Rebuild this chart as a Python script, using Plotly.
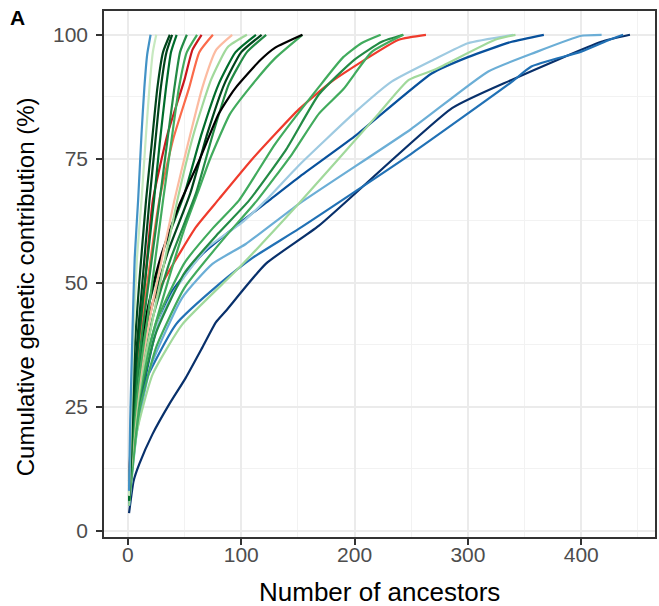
import plotly.graph_objects as go

# ---- data: cumulative genetic contribution (%) vs number of ancestors ----
navy_x = [1, 5, 10, 21.6, 36.5, 51, 65.6, 77.6, 86.4, 121.6, 168.6, 286, 338.5, 417.7, 443]
navy_y = [3.5, 10, 13.4, 19.4, 25.5, 30.8, 36.9, 42, 44.3, 53.8, 61.5, 85.2, 90.9, 98.6, 100]

medblue_x = [1, 5, 13, 42.4, 80.5, 110, 151, 250, 338.7, 356, 400, 425, 437]
medblue_y = [6, 18, 28.8, 41.6, 49.7, 55, 60.9, 76, 90.5, 93.6, 96.6, 99, 100]

skyblue_x = [1, 8, 20, 48, 74.6, 104, 151, 250, 318, 360, 400, 418]
skyblue_y = [5, 20, 33, 47, 53.8, 57.8, 65.9, 81, 92.6, 96.5, 99.8, 100]

darkblue_x = [1, 8, 24.8, 39.4, 65.8, 98, 124.6, 151, 200, 268, 300, 338.7, 367]
darkblue_y = [5, 22, 40.3, 48.4, 55.8, 61.9, 66.6, 71.3, 79.5, 92.2, 95.5, 98.6, 100]

paleblue_x = [1, 8, 20, 40, 70, 100, 121.6, 151, 201, 233, 270, 300, 340]
paleblue_y = [6, 25, 38, 48, 57, 62, 66.6, 73.7, 84.5, 90.6, 95, 98.3, 100]

lgreen_long_x = [1, 8, 21.8, 48, 98, 151, 221.6, 247.8, 271, 324, 342]
lgreen_long_y = [5, 20, 31.5, 41.6, 53, 66, 84.2, 90.9, 93, 99, 100]

red_x = [1, 10, 21.8, 36.5, 60, 80.5, 110, 151, 180, 239, 263]
red_y = [12, 33, 46, 52.4, 61.2, 66.9, 75, 85, 90.6, 99, 100]

gC1_x = [1, 10, 25, 50, 75, 98, 130, 168.6, 190, 206, 223]
gC1_y = [7, 28, 42, 54, 61, 66.6, 78, 89.5, 95.5, 98.3, 100]

gC2_x = [1, 10, 25, 50, 80, 107, 140, 168.6, 200, 224, 243]
gC2_y = [6, 26, 40, 52, 60, 66.6, 77, 88, 95, 98.6, 100]

gC3_x = [1, 10, 25, 50, 85, 114, 145, 168.6, 190, 215, 243]
gC3_y = [6, 24, 37, 49, 59, 66.6, 76, 84.1, 89, 96.5, 100]

black_x = [1, 3, 6, 10, 19, 30, 45, 63, 80, 89.4, 95, 116, 130, 154]
black_y = [8, 18, 28, 36, 46.4, 56, 65.5, 74.7, 84, 87.5, 89.3, 94.7, 97.4, 100]

mgreen_x = [1, 4, 10, 20, 35, 50, 63, 72, 90, 107, 130, 154]
mgreen_y = [6, 16, 27, 38, 50, 61, 69, 74.7, 84, 89.2, 95.3, 100]

dgM1_x = [1, 4, 9, 18, 32, 50, 65, 80, 95, 113]
dgM1_y = [7, 20, 32, 45, 57, 68, 80, 90, 96.5, 100]

dgM2_x = [1, 4, 10, 20, 35, 55, 70, 85, 100, 118]
dgM2_y = [7, 19, 31, 44, 56, 68, 80, 90, 96.5, 100]

dgM3_x = [1, 5, 11, 22, 38, 60, 75, 89, 105, 122]
dgM3_y = [6, 19, 30, 43, 55, 68, 80, 90, 96.5, 100]

lgreen105_x = [1, 5, 12, 24, 43.6, 58, 73.5, 88, 105]
lgreen105_y = [6, 19, 31, 45, 66.6, 80, 91, 97.5, 100]

lsalmon_x = [1, 5, 12, 22, 41, 53, 65.6, 78, 92]
lsalmon_y = [7, 20, 33, 46, 66.6, 78, 89.3, 97, 100]

salmon_x = [1, 4, 9, 16, 27.7, 40, 54, 63, 75]
salmon_y = [9, 22, 35, 48, 66.6, 79, 89.3, 96.5, 100]

dred_x = [1, 4, 9, 15, 22, 35, 50, 57, 65]
dred_y = [10, 25, 38, 50, 66.6, 80, 91, 97, 100]

gS2_x = [1, 4, 10, 18, 31, 38, 45, 52, 61]
gS2_y = [6, 18, 31, 44, 66.6, 78, 89.3, 96.5, 100]

gS1_x = [1, 4, 9, 16, 28, 35, 41, 46, 52]
gS1_y = [6, 20, 33, 46, 66.6, 79, 89.3, 96.5, 100]

dgS3_x = [1, 4, 8, 14, 23, 28, 33.6, 38, 43]
dgS3_y = [6, 21, 35, 48, 66.6, 78, 89.3, 96.5, 100]

dgS2_x = [1, 3, 7, 12, 19, 24, 29, 34, 39]
dgS2_y = [7, 20, 35, 48, 66.6, 78, 89.3, 96.5, 100]

dgS1_x = [1, 3, 6, 10, 16, 21, 26, 31, 37]
dgS1_y = [7, 22, 37, 50, 66.6, 78, 89.3, 96.5, 100]

pgreen_x = [1, 3, 5, 8, 12, 16, 19, 22, 25]
pgreen_y = [7, 25, 40, 55, 66.6, 80, 89.3, 96.5, 100]

sblue_x = [1, 2, 4, 6, 9, 12, 14.5, 17, 20]
sblue_y = [8, 22, 40, 55, 66.6, 80, 89.3, 96, 100]

x_ticks = [0, 100, 200, 300, 400]
y_ticks = [0, 25, 50, 75, 100]

# ---- styling (drawing order, colours) ----
series = [
    (navy_x, navy_y, "#08306B"),
    (medblue_x, medblue_y, "#2171B5"),
    (skyblue_x, skyblue_y, "#6BAED6"),
    (darkblue_x, darkblue_y, "#08519C"),
    (paleblue_x, paleblue_y, "#9ECAE1"),
    (lgreen_long_x, lgreen_long_y, "#A1D99B"),
    (red_x, red_y, "#EF3B2C"),
    (gC1_x, gC1_y, "#41AB5D"),
    (gC2_x, gC2_y, "#238B45"),
    (gC3_x, gC3_y, "#41AB5D"),
    (mgreen_x, mgreen_y, "#41AB5D"),
    (dgM1_x, dgM1_y, "#006D2C"),
    (dgM2_x, dgM2_y, "#00441B"),
    (dgM3_x, dgM3_y, "#238B45"),
    (black_x, black_y, "#000000"),
    (lgreen105_x, lgreen105_y, "#A1D99B"),
    (lsalmon_x, lsalmon_y, "#FCBBA1"),
    (salmon_x, salmon_y, "#FB6A4A"),
    (dred_x, dred_y, "#CB181D"),
    (gS2_x, gS2_y, "#41AB5D"),
    (gS1_x, gS1_y, "#238B45"),
    (dgS3_x, dgS3_y, "#006D2C"),
    (dgS2_x, dgS2_y, "#00441B"),
    (dgS1_x, dgS1_y, "#00441B"),
    (pgreen_x, pgreen_y, "#C7E9C0"),
    (sblue_x, sblue_y, "#4292C6"),
]

fig = go.Figure()
for xs, ys, col in series:
    fig.add_trace(go.Scatter(x=xs, y=ys, mode="lines",
                             line=dict(color=col, width=2.2, shape="spline", smoothing=0.5),
                             showlegend=False, hoverinfo="skip"))

FONT = "Liberation Sans, Arial, sans-serif"
axis_common = dict(
    showline=True, mirror=True, linecolor="#333333", linewidth=1.5,
    ticks="outside", ticklen=6, tickwidth=1.5, tickcolor="#333333",
    showgrid=True, gridcolor="#EBEBEB", gridwidth=1.5,
    zeroline=False,
    tickfont=dict(family=FONT, size=21, color="#4D4D4D"),
)
fig.update_xaxes(range=[-21.1, 465.1], tickvals=x_ticks, ticklabelstandoff=-8,
                 minor=dict(dtick=50, showgrid=True, gridcolor="#F2F2F2", gridwidth=1, ticks=""),
                 **axis_common)
fig.update_yaxes(range=[-1.3, 104.8], tickvals=y_ticks, ticklabelstandoff=4,
                 minor=dict(dtick=12.5, showgrid=True, gridcolor="#F2F2F2", gridwidth=1, ticks=""),
                 **axis_common)

fig.update_layout(
    width=659, height=606,
    margin=dict(l=104, r=2, t=11, b=69),
    paper_bgcolor="white", plot_bgcolor="white",
    font=dict(family=FONT),
    annotations=[
        dict(text="Number of ancestors", xref="paper", yref="paper",
             x=(381 - 104) / 553, y=(537 - 592) / 526, xanchor="center", yanchor="middle",
             showarrow=False, font=dict(family=FONT, size=26, color="black")),
        dict(text="Cumulative genetic contribution (%)", xref="paper", yref="paper",
             x=(25 - 104) / 553, y=(537 - 287) / 526, xanchor="center", yanchor="middle",
             textangle=-90, showarrow=False, font=dict(family=FONT, size=24, color="black")),
        dict(text="<b>A</b>", xref="paper", yref="paper",
             x=(8 - 104) / 553, y=(537 - 18) / 526, xanchor="left", yanchor="middle",
             showarrow=False, font=dict(family=FONT, size=21, color="black")),
    ],
)

fig.write_html("out.html")
